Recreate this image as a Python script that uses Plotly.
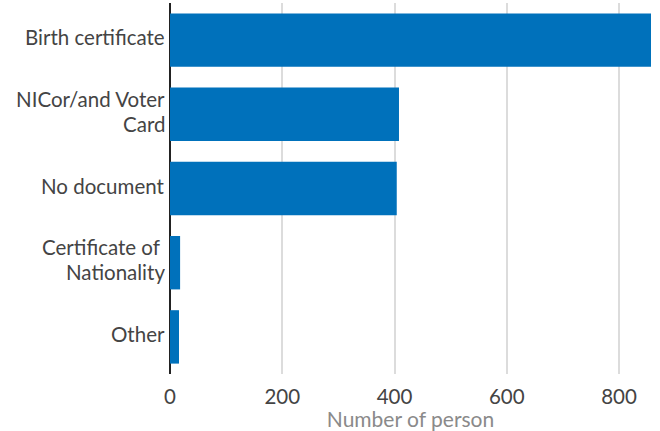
import plotly.graph_objects as go

categories = ["Birth certificate", "NICor/and Voter<br>Card", "No document",
              "Certificate of <br>Nationality", "Other"]
values = [857, 408, 404, 18, 16]
x_ticks = [0, 200, 400, 600, 800]

fig = go.Figure(go.Bar(
    y=categories, x=values, orientation="h",
    marker=dict(color="#0071bb", line=dict(width=0)),
))

# category labels drawn as annotations so multi-line labels keep tight line spacing
annotations = []
line_gap = 25
for cat in categories:
    lines = cat.split("<br>")
    n = len(lines)
    for i, ln in enumerate(lines):
        txt = ln.rstrip() + ("&nbsp;" if ln.endswith(" ") else "")
        annotations.append(dict(
            x=0, y=cat, xref="x", yref="y", text=txt,
            showarrow=False, xanchor="right", yanchor="middle",
            height=line_gap, borderpad=0,
            xshift=-4, yshift=((n - 1) / 2 - i) * line_gap + 3.5,
            font=dict(family="Lato", size=20.5, color="#444444"),
        ))

fig.update_layout(
    width=660, height=431,
    margin=dict(l=170, r=9, t=3, b=57),
    paper_bgcolor="white", plot_bgcolor="white",
    font=dict(family="Lato", size=20, color="#444444"),
    bargap=0.28,
    showlegend=False,
    annotations=annotations,
)
fig.update_xaxes(
    range=[0, 857], tickvals=x_ticks, ticktext=[str(v) for v in x_ticks],
    showgrid=True, gridcolor="#dcdcdc", gridwidth=1.5,
    zeroline=True, zerolinecolor="#222222", zerolinewidth=2,
    showline=False, ticks="outside", ticklen=4, tickcolor="rgba(0,0,0,0)",
    tickfont=dict(size=20.5, color="#444444"),
    title=dict(text="Number of person", font=dict(size=21, color="#8a8a8a"), standoff=0),
)
fig.update_yaxes(
    autorange="reversed", showgrid=False, showline=False,
    showticklabels=False, ticks="",
)

fig.write_html("out.html", config={"displayModeBar": False},
               post_script="document.body.style.margin='0';")
